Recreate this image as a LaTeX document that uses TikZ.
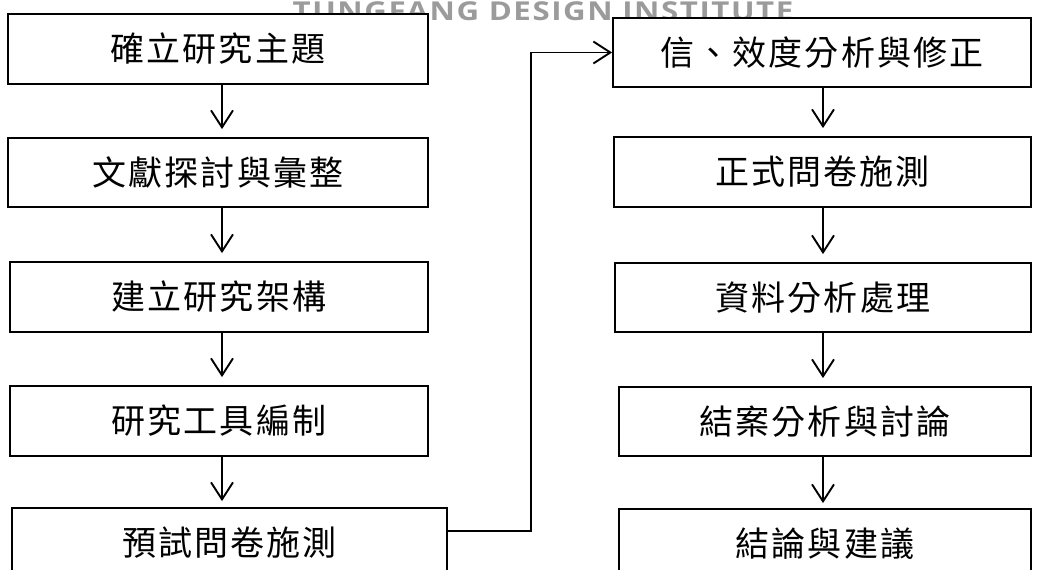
\documentclass[tikz,border=0pt]{standalone}
\usepackage{fontspec}
\usetikzlibrary{arrows.meta}
\newfontfamily\cjkfont{Noto Sans CJK TC}[LetterSpace=6]
\newfontfamily\wmfont{Open Sans}[LetterSpace=5]
\definecolor{wmgray}{RGB}{155,155,155}
\tikzset{
  box/.style={draw, line width=1.8pt, fill=white, minimum height=70pt, inner sep=0pt,
    font=\cjkfont\fontsize{34}{34}\selectfont},
  arr/.style={line width=1.9pt, -{Straight Barb[length=17pt,width=22pt]}},
  wm/.style={text=wmgray, inner sep=0pt, font=\wmfont\bfseries\fontsize{26}{26}\selectfont}
}
\begin{document}
\begin{tikzpicture}[x=1pt,y=-1pt]
\useasboundingbox (0,0) rectangle (1044,570);
\clip (0,0) rectangle (1044,570);
\fill[white] (0,0) rectangle (1044,570);
\node[wm, anchor=base] (wm) at (543,20) {\scalebox{1.2}[1]{TUNGFANG DESIGN INSTITUTE}};
% left column
\node[box, minimum width=420pt] (L1) at (218,49) {確立研究主題};
\node[box, minimum width=420pt, minimum height=69pt] (L2) at (218,172.5) {文獻探討與彙整};
\node[box, minimum width=418pt] (L3) at (219,297) {建立研究架構};
\node[box, minimum width=418pt] (L4) at (219,421) {研究工具編制};
\node[box, minimum width=435pt] (L5) at (229.5,543) {預試問卷施測};
% right column
\node[box, minimum width=418pt, minimum height=69pt] (R1) at (822,52.5) {信、效度分析與修正};
\node[box, minimum width=417pt] (R2) at (822.5,172) {正式問卷施測};
\node[box, minimum width=416pt, minimum height=69pt] (R3) at (823,297.5) {資料分析處理};
\node[box, minimum width=412pt, minimum height=69pt] (R4) at (825,421.5) {結案分析與討論};
\node[box, minimum width=412pt] (R5) at (825,544) {結論與建議};
% arrows
\coordinate (ax) at (222,0);
\coordinate (bx) at (823,0);
\draw[arr] (L1.south -| ax) -- ([yshift=8pt]L2.north -| ax);
\draw[arr] (L2.south -| ax) -- ([yshift=8pt]L3.north -| ax);
\draw[arr] (L3.south -| ax) -- ([yshift=8pt]L4.north -| ax);
\draw[arr] (L4.south -| ax) -- ([yshift=6pt]L5.north -| ax);
\draw[arr] (R1.south -| bx) -- ([yshift=8pt]R2.north -| bx);
\draw[arr] (R2.south -| bx) -- ([yshift=8pt]R3.north -| bx);
\draw[arr] (R3.south -| bx) -- ([yshift=8pt]R4.north -| bx);
\draw[arr] (R4.south -| bx) -- ([yshift=5pt]R5.north -| bx);
\coordinate (c1) at (531,531);
\draw[arr] (L5.east |- c1) -- (c1) |- (R1.west);
\end{tikzpicture}
\end{document}
